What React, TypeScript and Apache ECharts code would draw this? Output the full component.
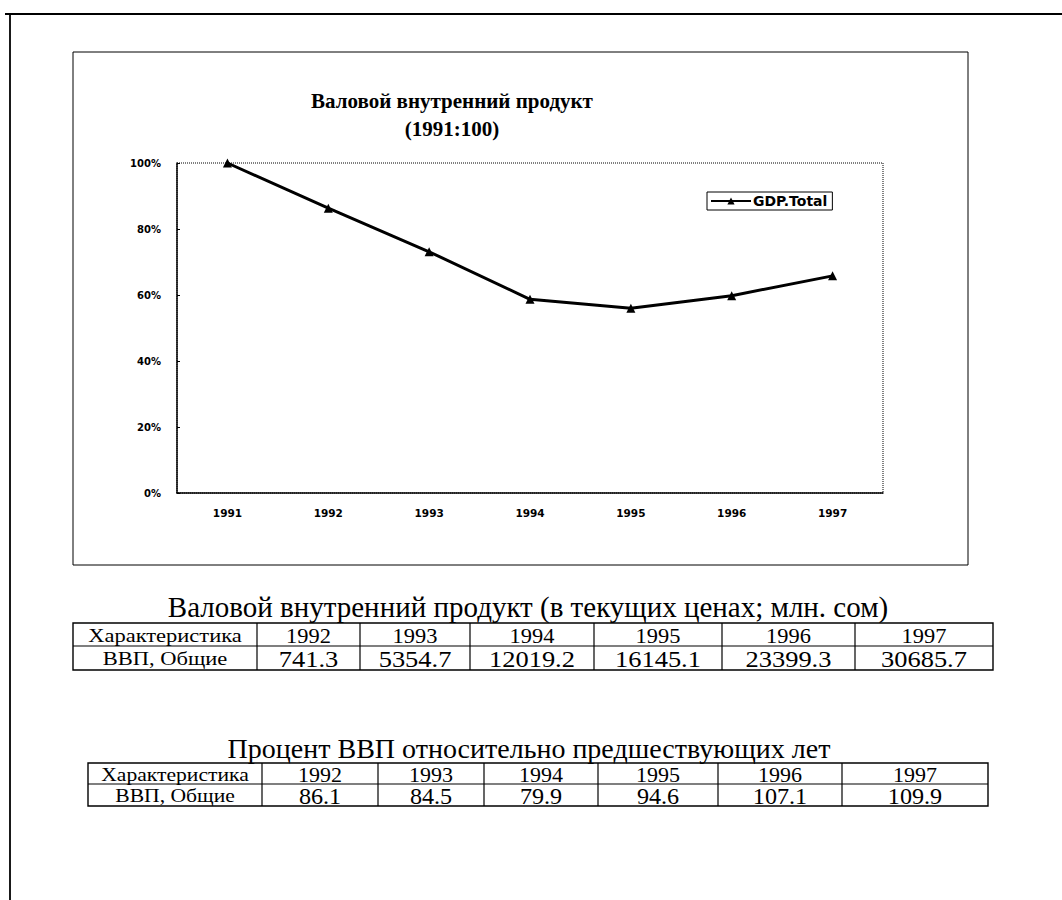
import React, { useEffect, useRef } from "react";
import * as echarts from "echarts";

const years = ["1991", "1992", "1993", "1994", "1995", "1996", "1997"];
const gdpIndex = [100, 86.3, 73.1, 58.7, 56.0, 59.8, 65.8];
const yTicks = [0, 20, 40, 60, 80, 100];
const seriesName = "GDP.Total";

const chartTitle = "Валовой внутренний продукт\n(1991:100)";
const table1Title = "Валовой внутренний продукт (в текущих ценах; млн. сом)";
const table2Title = "Процент ВВП относительно предшествующих лет";
const headerLabel = "Характеристика";
const rowLabel = "ВВП, Общие";
const tableYears = ["1992", "1993", "1994", "1995", "1996", "1997"];
const gdpNominal = ["741.3", "5354.7", "12019.2", "16145.1", "23399.3", "30685.7"];
const gdpGrowth = ["86.1", "84.5", "79.9", "94.6", "107.1", "109.9"];

const SERIF = "'Liberation Serif', 'Times New Roman', serif";
const SANS = "'DejaVu Sans', sans-serif";

type CellStyle = { size: number; sx: number };

function buildTable(
  cols: number[],
  rows: number[],
  header: string[],
  values: string[],
  labelStyle: CellStyle,
  headStyle: CellStyle,
  valStyle: CellStyle
) {
  const els: any[] = [];
  const x0 = cols[0];
  const x1 = cols[cols.length - 1];
  els.push({
    type: "rect",
    shape: { x: x0, y: rows[0], width: x1 - x0, height: rows[2] - rows[0] },
    style: { fill: "none", stroke: "#000", lineWidth: 1.4 },
  });
  els.push({
    type: "line",
    shape: { x1: x0, y1: rows[1], x2: x1, y2: rows[1] },
    style: { stroke: "#000", lineWidth: 1.2 },
  });
  for (let i = 1; i < cols.length - 1; i++) {
    els.push({
      type: "line",
      shape: { x1: cols[i], y1: rows[0], x2: cols[i], y2: rows[2] },
      style: { stroke: "#000", lineWidth: 1.2 },
    });
  }
  const rowData = [
    [headerLabel, ...header],
    [rowLabel, ...values],
  ];
  rowData.forEach((r, ri) => {
    r.forEach((t, ci) => {
      const cx = (cols[ci] + cols[ci + 1]) / 2;
      const cy = (rows[ri] + rows[ri + 1]) / 2 + 1;
      const st = ci === 0 ? labelStyle : ri === 0 ? headStyle : valStyle;
      els.push({
        type: "text",
        x: cx,
        y: cy,
        scaleX: st.sx,
        style: {
          text: t,
          fill: "#000",
          font: `${st.size}px ${SERIF}`,
          textAlign: "center",
          textVerticalAlign: "middle",
        },
      });
    });
  });
  return els;
}

export default function App() {
  const ref = useRef<HTMLDivElement>(null);
  useEffect(() => {
    document.body.style.margin = "0";
    const chart = echarts.init(ref.current!, null, { renderer: "svg" });
    const t1Cols = [73, 257, 360, 470, 594, 722, 855, 993];
    const t1Rows = [623, 646, 670];
    const t2Cols = [88, 262, 378, 484, 598, 718, 842, 988];
    const t2Rows = [763, 784, 806];

    const graphics: any[] = [
      { type: "line", shape: { x1: 5, y1: 14, x2: 1062, y2: 14 }, style: { stroke: "#000", lineWidth: 1.8 } },
      { type: "line", shape: { x1: 10, y1: 14, x2: 10, y2: 900 }, style: { stroke: "#000", lineWidth: 1.8 } },
      {
        type: "rect",
        shape: { x: 73, y: 52, width: 895, height: 513 },
        style: { fill: "none", stroke: "#000", lineWidth: 1 },
      },
      {
        type: "text",
        x: 528,
        y: 607,
        style: {
          text: table1Title,
          fill: "#000",
          font: `29px ${SERIF}`,
          textAlign: "center",
          textVerticalAlign: "middle",
        },
      },
      {
        type: "text",
        x: 529,
        y: 748,
        style: {
          text: table2Title,
          fill: "#000",
          font: `28px ${SERIF}`,
          textAlign: "center",
          textVerticalAlign: "middle",
        },
      },
      ...buildTable(t1Cols, t1Rows, tableYears, gdpNominal, { size: 18, sx: 1.25 }, { size: 22, sx: 1.02 }, { size: 23, sx: 1.15 }),
      ...buildTable(t2Cols, t2Rows, tableYears, gdpGrowth, { size: 18, sx: 1.2 }, { size: 22, sx: 1 }, { size: 23, sx: 1.05 }),
    ];

    chart.setOption({
      animation: false,
      backgroundColor: "#fff",
      title: {
        text: chartTitle,
        left: 447,
        top: 82,
        textAlign: "center",
        textStyle: {
          fontFamily: SERIF,
          fontWeight: "bold",
          fontSize: 21,
          lineHeight: 28,
          color: "#000",
        },
      },
      legend: {
        data: [seriesName],
        left: 707,
        top: 192,
        orient: "horizontal",
        borderColor: "#000",
        borderWidth: 1,
        padding: [2, 5, 2, 3],
        itemWidth: 40,
        itemHeight: 9,
        itemGap: 2,
        textStyle: { fontFamily: SANS, fontWeight: "bold", fontSize: 14, color: "#000", padding: [0, 0, 0, -3] },
      },
      grid: {
        left: 177,
        top: 163,
        width: 706,
        height: 330,
        show: true,
        borderColor: "#000",
        borderWidth: 1,
        borderType: "dotted",
        backgroundColor: "transparent",
      },
      xAxis: {
        type: "category",
        data: years,
        boundaryGap: true,
        axisLine: { lineStyle: { color: "#000", width: 1.5 } },
        axisTick: { inside: true, length: 4, lineStyle: { color: "#000" } },
        axisLabel: { color: "#000", fontFamily: SANS, fontWeight: "bold", fontSize: 10.5, margin: 14 },
        splitLine: { show: false },
      },
      yAxis: {
        type: "value",
        min: yTicks[0],
        max: yTicks[yTicks.length - 1],
        interval: 20,
        axisLine: { show: true, lineStyle: { color: "#000", width: 1.5 } },
        axisTick: { show: true, inside: true, length: 3, lineStyle: { color: "#000" } },
        axisLabel: { color: "#000", fontFamily: SANS, fontWeight: "bold", fontSize: 10, margin: 16, formatter: "{value}%" },
        splitLine: { show: false },
      },
      series: [
        {
          name: seriesName,
          type: "line",
          data: gdpIndex,
          symbol: "triangle",
          symbolSize: 9,
          color: "#000",
          lineStyle: { color: "#000", width: 3 },
          itemStyle: { color: "#000" },
        },
      ],
      graphic: graphics,
    });
    return () => chart.dispose();
  }, []);
  return <div ref={ref} style={{ position: "absolute", left: 0, top: 0, width: 1062, height: 900 }} />;
}
